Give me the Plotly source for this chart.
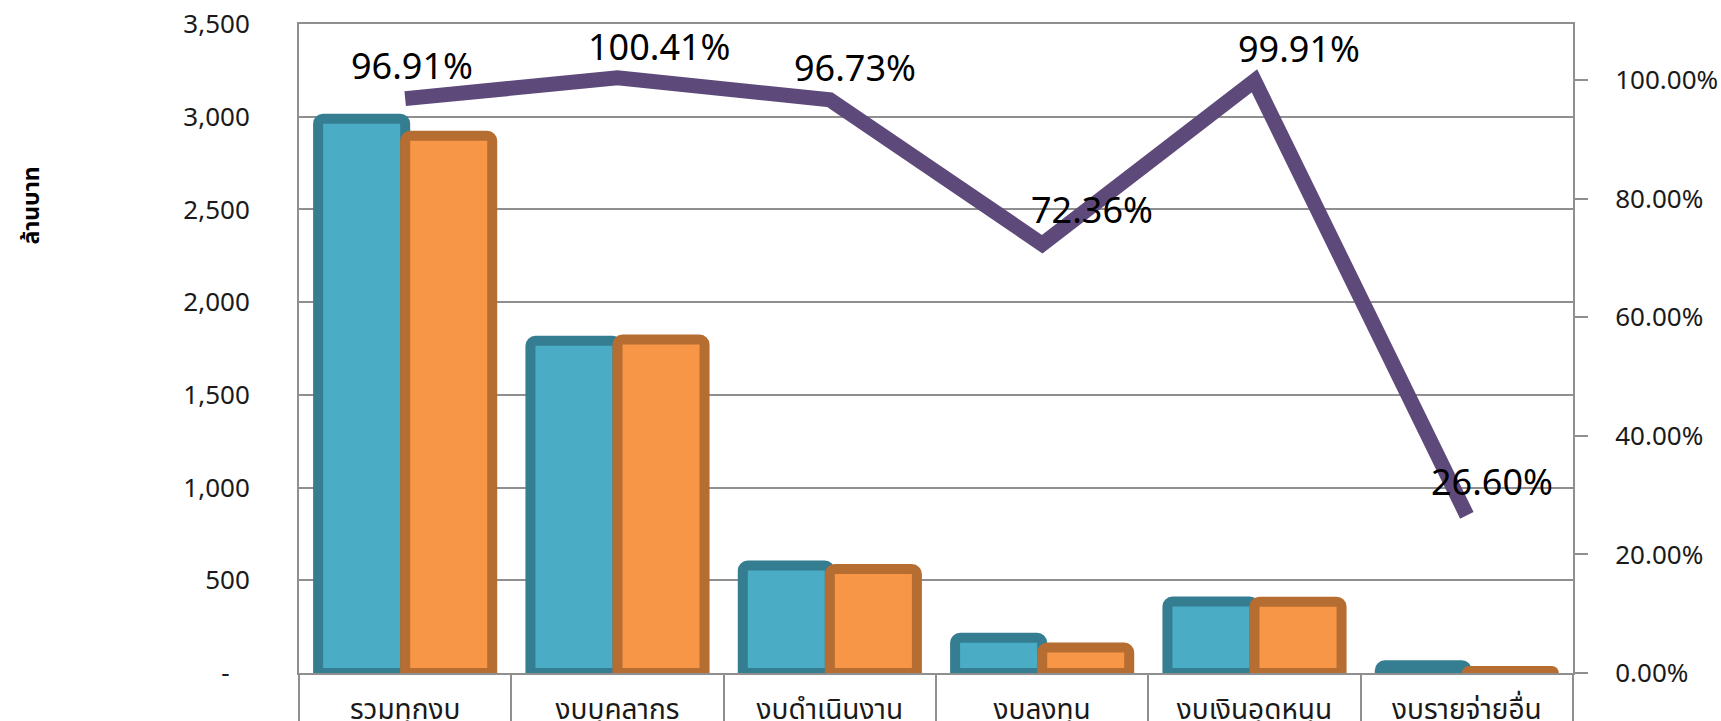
import plotly.graph_objects as go

categories = ["รวมทุกงบ", "งบบุคลากร", "งบดำเนินงาน", "งบลงทุน", "งบเงินอุดหนุน", "งบรายจ่ายอื่น"]
budget = [2990, 1792, 580, 190, 385, 42]
spent = [2898, 1799, 561, 137.5, 384.6, 11.2]
pct = [0.9691, 1.0041, 0.9673, 0.7236, 0.9991, 0.2660]
pct_labels = ["96.91%", "100.41%", "96.73%", "72.36%", "99.91%", "26.60%"]
left_tickvals = [0, 500, 1000, 1500, 2000, 2500, 3000, 3500]
left_ticktext = ["-\u00a0\u00a0\u00a0", "500", "1,000", "1,500", "2,000", "2,500", "3,000", "3,500"]
right_tickvals = [0, 0.2, 0.4, 0.6, 0.8, 1.0]
right_ticktext = ["0.00%", "20.00%", "40.00%", "60.00%", "80.00%", "100.00%"]
y_title = "ล้านบาท"

# label placement offsets (px) relative to each line point
label_dx = [7, 42, 25, 50, 44, 25]
label_dy = [33, 31, 32, 35, 32, 34]

FONT = "Noto Sans, Noto Sans Thai, Tahoma, sans-serif"
GRID = "#8f8f8f"

fig = go.Figure()
fig.add_trace(go.Bar(
    x=categories, y=budget, name="budget",
    marker=dict(color="#4BACC6", line=dict(color="#357D91", width=10), cornerradius=5),
))
fig.add_trace(go.Bar(
    x=categories, y=spent, name="spent",
    marker=dict(color="#F79646", line=dict(color="#B66D31", width=10), cornerradius=5),
))
fig.add_trace(go.Scatter(
    x=categories, y=pct, yaxis="y2", mode="lines", name="pct",
    line=dict(color="#5E4A7A", width=15),
))

for c, v, t, dx, dy in zip(categories, pct, pct_labels, label_dx, label_dy):
    fig.add_annotation(x=c, y=v, yref="y2", text=t, showarrow=False,
                       xshift=dx, yshift=dy, font=dict(size=36, color="#000000", family=FONT))

fig.add_annotation(xref="paper", yref="paper", x=-0.225, y=0.784, text="<b>" + y_title + "</b>",
                   textangle=-90, showarrow=False, font=dict(size=23, color="#000000", family=FONT))

fig.update_layout(
    template="none",
    width=1721, height=721,
    margin=dict(l=299, r=148, t=24, b=48, autoexpand=False),
    paper_bgcolor="white", plot_bgcolor="white",
    barmode="group", bargap=0.18, bargroupgap=0,
    showlegend=False,
    font=dict(family=FONT, size=26, color="#1a1a1a"),
    xaxis=dict(
        type="category", automargin=False, showgrid=False, showline=True, linecolor=GRID, linewidth=2, mirror=True,
        ticks="outside", tickson="boundaries", ticklen=50, tickcolor=GRID, tickwidth=2,
        ticklabelstandoff=10, tickfont=dict(size=28),
    ),
    yaxis=dict(
        range=[0, 3500.5], tickvals=left_tickvals, ticktext=left_ticktext, automargin=False,
        showgrid=True, gridcolor=GRID, gridwidth=2, zeroline=False,
        showline=True, linecolor=GRID, linewidth=2, ticks="", ticklabelstandoff=42,
    ),
    yaxis2=dict(
        overlaying="y", side="right", range=[0, 1.095], tickvals=right_tickvals, ticktext=right_ticktext,
        automargin=False, showgrid=False, zeroline=False, showline=True, linecolor=GRID, linewidth=2,
        ticks="outside", ticklen=13, tickcolor=GRID, tickwidth=2, ticklabelstandoff=22,
    ),
)

fig.write_html("out.html", config={"displayModeBar": False},
               post_script="document.body.style.margin='0px';document.body.style.overflow='hidden';")
